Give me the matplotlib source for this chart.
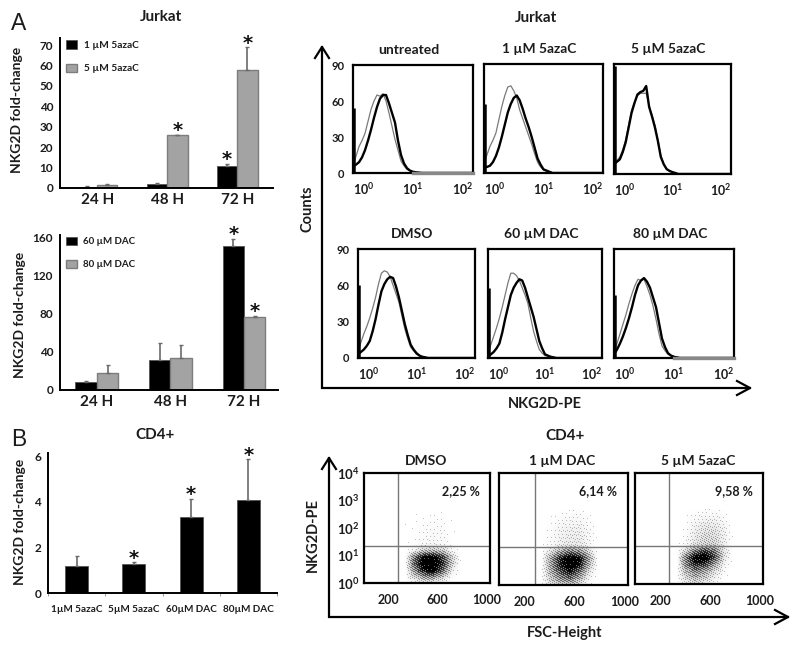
import matplotlib
matplotlib.use("Agg")
import matplotlib.pyplot as plt
import numpy as np

plt.rcParams['font.family'] = ['Lato', 'DejaVu Sans']
plt.rcParams['mathtext.fontset'] = 'custom'
plt.rcParams['mathtext.bf'] = 'Lato:bold'
plt.rcParams['mathtext.rm'] = 'Lato:bold'

W, H = 800, 653
TXT = '#1c1c1c'
GREY = '#a3a3a3'
GREY_E = '#7d7d7d'

# ---- bar data ----
hours = ['24 H', '48 H', '72 H']
aza_1 = [0.7, 2.0, 11.0]
aza_1_err = [0.2, 0.5, 1.0]
aza_5 = [1.3, 25.8, 58.0]
aza_5_err = [0.8, 0.3, 11.0]
dac_60 = [8.7, 31.5, 151.0]
dac_60_err = [1.0, 17.5, 8.0]
dac_80 = [18.0, 34.0, 77.0]
dac_80_err = [8.0, 13.5, 1.0]
cd4_labels = ['1µM 5azaC', '5µM 5azaC', '60µM DAC', '80µM DAC']
cd4_vals = [1.2, 1.29, 3.33, 4.1]
cd4_err = [0.44, 0.06, 0.81, 1.77]

# ---- histogram data: counts at log10(x) = 0, 0.05 ... 1.2, then 2 ----
log_grid = [0.0, 0.05, 0.1, 0.15, 0.2, 0.25, 0.3, 0.35, 0.4, 0.45, 0.5, 0.55, 0.6,
            0.65, 0.7, 0.75, 0.8, 0.85, 0.9, 0.95, 1.0, 1.05, 1.1, 1.15, 1.2, 2.0]
untreated_thick = [5.5, 7, 9, 13, 19, 27, 36, 46, 55, 62, 65, 65, 58, 50, 42, 27, 15, 8, 4, 2, 1, 0.6, 0.3, 0, 0, 0]
untreated_thin = [5.5, 14, 22, 27, 33, 43, 53, 60, 65, 64, 66, 60, 50, 39, 28, 19, 10, 6, 3, 2, 1, 0.5, 0, 0, 0, 0]
aza1_thick = [5, 5, 6, 9, 14, 21, 30, 40, 50, 57, 62, 64, 60, 53, 45, 38, 30, 21, 12, 7, 3, 2, 1, 0, 0, 0]
aza1_thin = [8, 15, 22, 27, 33, 44, 55, 64, 71, 72, 68, 62, 52, 45, 38, 31, 24, 16, 9, 5, 2.5, 1.5, 1, 0, 0, 0]
aza5_thick = [8, 10, 12, 18, 26, 38, 50, 58, 65, 67, 68, 72, 55, 47, 38, 27, 14, 8, 4, 2.5, 1.5, 0.8, 0, 0, 0, 0]
aza5_thin = [9, 11, 14, 20, 28, 40, 52, 59, 64, 66, 66, 66, 56, 48, 40, 28, 15, 8, 4, 2.5, 1.5, 0.8, 0, 0, 0, 0]
dmso_thick = [3, 5, 7, 10, 14, 22, 32, 44, 55, 61, 65, 67, 66, 59, 50, 39, 28, 19, 11, 7, 4, 2, 1, 0.5, 0, 0]
dmso_thin = [5, 13, 20, 26, 33, 41, 50, 61, 70, 72, 71, 67, 60, 53, 46, 35, 24, 16, 9, 6, 3, 2, 1, 0.5, 0, 0]
dac60_thick = [2, 3, 5, 8, 12, 21, 32, 42, 52, 58, 62, 65, 64, 58, 50, 42, 34, 24, 14, 8, 3, 2, 1, 0.5, 0, 0]
dac60_thin = [4, 11, 18, 25, 33, 42, 52, 62, 70, 70, 68, 64, 58, 52, 45, 33, 22, 14, 7, 4, 2, 1.5, 1, 0.5, 0, 0]
dac80_thick = [3, 7, 12, 18, 25, 33, 42, 52, 60, 64, 66, 63, 58, 50, 42, 29, 16, 9, 4, 2, 1, 0.5, 0, 0, 0, 0]
dac80_thin = [5, 12, 20, 28, 36, 45, 53, 60, 65, 64, 65, 59, 52, 43, 32, 20, 10, 6, 3, 2, 1, 0.5, 0, 0, 0, 0]
hist_titles = ['untreated', '1 µM 5azaC', '5 µM 5azaC', 'DMSO', '60 µM DAC', '80 µM DAC']
hist_spikes = [54, 57, 88, 60, 58, 52]
hist_ticks = ['90', '60', '30', '0']

# ---- dot-plot data: darkness read on a coarse FSC / PE grid ----
fsc_grid = [330, 400, 480, 560, 640, 720, 790]
pe_grid = [1.0, 1.6, 2.8, 5.0, 8.9, 15.8, 28.2, 100, 500]
dens_dmso = [[0, .05, .10, .10, .05, 0, 0],
             [0, .25, .45, .50, .30, .05, 0],
             [0, .45, .85, .95, .65, .15, 0],
             [0, .60, .95, 1.0, .80, .30, 0],
             [0, .55, .90, .95, .75, .30, 0],
             [0, .10, .30, .35, .30, .08, 0],
             [0, .03, .08, .10, .08, .02, 0],
             [0, .02, .06, .07, .07, .01, 0],
             [0, 0, 0, .01, .01, 0, 0]]
dens_dac = [[0, .15, .30, .35, .20, .03, 0],
            [0, .30, .50, .60, .40, .10, 0],
            [0, .35, .65, .85, .60, .20, 0],
            [0, .40, .80, 1.0, .85, .35, 0],
            [0, .40, .80, 1.0, .90, .45, 0],
            [0, .20, .45, .60, .55, .25, 0],
            [0, .07, .15, .20, .20, .10, 0],
            [0, .05, .12, .15, .15, .08, 0],
            [0, 0, .01, .03, .04, .01, 0]]
dens_aza = [[0, .10, .20, .15, .05, 0, 0],
            [0, .25, .40, .30, .15, .02, 0],
            [0, .35, .55, .45, .25, .05, 0],
            [0, .50, .80, .75, .45, .10, 0],
            [0, .55, .95, 1.0, .70, .20, 0],
            [0, .25, .60, .75, .60, .20, 0],
            [0, .07, .22, .30, .30, .15, 0],
            [0, .03, .15, .22, .22, .12, 0],
            [0, 0, .02, .04, .05, .02, 0]]
dot_titles = ['DMSO', '1 µM DAC', '5 µM 5azaC']
dot_pct = ['2,25 %', '6,14 %', '9,58 %']
pe_ticks = [1, 10, 100, 1000, 10000]
pe_labels = [r'$\mathbf{10^{%d}}$' % i for i in range(5)]
fsc_ticks = [200, 600, 1000]

fig = plt.figure(figsize=(W / 100, H / 100), dpi=100, facecolor='white')


def box(x0, y0, x1, y1, **kw):
    return fig.add_axes([x0 / W, 1 - y1 / H, (x1 - x0) / W, (y1 - y0) / H], **kw)


def tx(x, y, s, size=9, weight='bold', ha='center', **kw):
    fig.text(x / W, 1 - y / H, s, fontsize=size, fontweight=weight, ha=ha, va='center', color=TXT, **kw)


def star(ax, x, top, off):
    ax.annotate('*', (x, top), xytext=(0, off), textcoords='offset points', ha='center', va='center',
                fontsize=14, fontweight='bold', family='DejaVu Sans', color='#111111')


def style_bar(ax):
    for s in ('top', 'right'):
        ax.spines[s].set_visible(False)
    ax.spines['left'].set_linewidth(1.4)
    ax.spines['bottom'].set_linewidth(1.4)
    ax.tick_params(axis='y', length=0, pad=5, labelsize=8.5)
    ax.tick_params(axis='x', length=0, labelsize=11)
    for t in ax.get_xticklabels() + ax.get_yticklabels():
        t.set_fontweight('bold')
        t.set_color(TXT)


def grouped(ax, a, ae, b, be, la, lb, ylim, yt, xlim, stars, lsize):
    x = np.arange(3)
    w = 0.29
    ek = dict(ecolor='#6a6a6a', elinewidth=1.2, capsize=1.5, capthick=1)
    ax.bar(x - w / 2, a, w, color='black', edgecolor='#555555', linewidth=0.6, label=la,
           yerr=[np.zeros(3), ae], error_kw=ek)
    ax.bar(x + w / 2, b, w, color=GREY, edgecolor=GREY_E, linewidth=1.0, label=lb,
           yerr=[np.zeros(3), be], error_kw=ek)
    ax.set_xlim(*xlim)
    ax.set_ylim(*ylim)
    ax.set_yticks(yt)
    ax.set_xticks(x, hours)
    style_bar(ax)
    for i, side in stars:
        vals, errs, sx = (a, ae, -w / 2) if side == 0 else (b, be, w / 2)
        star(ax, i + sx, vals[i] + errs[i], 3)
    leg = ax.legend(loc='upper left', bbox_to_anchor=(0.02, 1.0), frameon=False, fontsize=lsize,
                    handlelength=1.05, handleheight=0.95, labelspacing=1.35, handletextpad=0.7,
                    borderaxespad=0, borderpad=0.2)
    for t in leg.get_texts():
        t.set_fontweight('bold')
        t.set_color(TXT)


# ---- bars ----
a1 = box(60, 38, 273, 188)
grouped(a1, aza_1, aza_1_err, aza_5, aza_5_err, '1 µM 5azaC', '5 µM 5azaC',
        (0, 73.5), range(0, 71, 10), (-0.53, 2.51), [(1, 1), (2, 0), (2, 1)], 7.3)
a2 = box(60, 235, 278, 390)
grouped(a2, dac_60, dac_60_err, dac_80, dac_80_err, '60 µM DAC', '80 µM DAC',
        (0, 163), [0, 40, 80, 120, 160], (-0.5, 2.46), [(2, 0), (2, 1)], 7.0)

b = box(48, 453, 277, 593)
xb = np.arange(4)
b.bar(xb, cd4_vals, 0.4, color='black', edgecolor='#555555', linewidth=0.6,
      yerr=[np.zeros(4), cd4_err], error_kw=dict(ecolor='#6a6a6a', elinewidth=1.2, capsize=1.5, capthick=1))
b.set_xlim(-0.5, 3.5)
b.set_ylim(0, 6.15)
b.set_yticks([0, 2, 4, 6])
b.set_xticks(xb, cd4_labels)
style_bar(b)
b.tick_params(axis='x', labelsize=7.2, pad=9)
b.set_xticks(np.arange(-0.5, 4, 1), minor=True)
b.tick_params(axis='x', which='minor', length=2, width=0.6, color='#888888')
for i in (1, 2, 3):
    star(b, i, cd4_vals[i] + cd4_err[i], 3)

# ---- histograms ----
hist_boxes = [(353, 65, 473, 173), (484, 64, 603, 173), (614, 64, 731, 174),
              (358, 249, 475, 358), (488, 249, 602, 358), (614, 249, 734, 358)]
thick = [untreated_thick, aza1_thick, aza5_thick, dmso_thick, dac60_thick, dac80_thick]
thin = [untreated_thin, aza1_thin, aza5_thin, dmso_thin, dac60_thin, dac80_thin]
xs = 10 ** np.array(log_grid)
for i, bx in enumerate(hist_boxes):
    ax = box(*bx)
    ax.semilogx(xs, thin[i], color='#7a7a7a', lw=0.9)
    ax.semilogx(xs, thick[i], color='black', lw=1.7)
    ax.vlines(1.035, 0, hist_spikes[i], color='black', lw=1.8)
    if i in (0, 5):
        ax.plot([10, 100], [0, 0], color='#888888', lw=2.4, zorder=5, clip_on=False)
    ax.set_xlim(1, 100)
    ax.set_ylim(0, 90)
    ax.minorticks_off()
    ax.set_xticks([1, 10, 100], [r'$\mathbf{10^{0}}$', r'$\mathbf{10^{1}}$', r'$\mathbf{10^{2}}$'])
    labs = ax.get_xticklabels()
    labs[0].set_ha('left')
    labs[2].set_ha('right')
    ax.tick_params(axis='x', length=0, labelsize=9, pad=6, labelcolor=TXT)
    if i in (0, 3):
        ax.set_yticks([90, 60, 30, 0], hist_ticks)
        ax.tick_params(axis='y', length=0, labelsize=8, pad=6, labelcolor=TXT)
        for t in ax.get_yticklabels():
            t.set_fontweight('bold')
    else:
        ax.set_yticks([])
    for s in ax.spines.values():
        s.set_linewidth(1.6)
    tx((bx[0] + bx[2]) / 2 - 4, bx[1] - 15, hist_titles[i], size=10)

# ---- dot plots ----
dot_boxes = [(364, 473, 490, 583), (499, 473, 628, 585), (635, 473, 763, 584)]
dens = [dens_dmso, dens_dac, dens_aza]
gate_x = [280, 285, 272]
gate_y = [23, 23, 24]


def stipple(ax, grid, nx, ny):
    """Show the read density grid as a smooth tone plus a fine ordered dither, one cell per pixel."""
    xe = np.linspace(0, 1024, nx + 1)
    le = np.linspace(0, 4, ny + 1)
    xc = (xe[:-1] + xe[1:]) / 2
    lc = (le[:-1] + le[1:]) / 2
    lg = np.log10(pe_grid)
    g = np.array(grid)
    by_row = np.array([np.interp(xc, fsc_grid, r, left=0, right=0) for r in g])
    d = np.array([np.interp(lc, lg, by_row[:, k], left=0, right=0) for k in range(nx)]).T
    jj, ii = np.mgrid[0:ny, 0:nx]
    thr = (ii * 0.7548777 + jj * 0.5698403) % 1
    dots = np.where(d ** 1.1 > thr, 1.0, 0.0)
    img = np.clip(0.45 * dots * (0.5 + 0.5 * d) + 0.65 * d ** 1.3, 0, 1)
    ax.pcolormesh(xe, 10 ** le, img, shading='flat', cmap='gray_r', vmin=0, vmax=1, antialiased=False)


for i, bx in enumerate(dot_boxes):
    ax = box(*bx)
    ax.set_yscale('log')
    stipple(ax, dens[i], bx[2] - bx[0], bx[3] - bx[1])
    ax.axvline(gate_x[i], color='#777777', lw=1)
    ax.axhline(gate_y[i], color='#777777', lw=1)
    ax.set_xlim(0, 1024)
    ax.set_ylim(1, 10000)
    ax.minorticks_off()
    ax.set_xticks(fsc_ticks, [str(v) for v in fsc_ticks])
    ax.tick_params(axis='x', length=0, labelsize=9, pad=8, labelcolor=TXT)
    for t in ax.get_xticklabels():
        t.set_fontweight('bold')
    if i == 0:
        ax.set_yticks(pe_ticks, pe_labels)
        ax.tick_params(axis='y', length=0, labelsize=9.5, pad=3, labelcolor=TXT)
    else:
        ax.set_yticks([])
    for s in ax.spines.values():
        s.set_linewidth(1.6)
    ax.text(0.77, 0.84, dot_pct[i], transform=ax.transAxes, ha='center', va='center',
            fontsize=9, fontweight='bold', color=TXT)
    tx((bx[0] + bx[2]) / 2 - 1, bx[1] - 12, dot_titles[i], size=10)

# ---- overlay: L-shaped axes with arrows ----
ov = fig.add_axes([0, 0, 1, 1], facecolor='none')
ov.set_xlim(0, W)
ov.set_ylim(H, 0)
ov.axis('off')
for cx, ty, cy, rx in [(322, 47, 388, 750), (329, 458, 617, 788)]:
    ov.plot([cx, cx, rx], [ty, cy, cy], color='black', lw=1.6, solid_joinstyle='miter')
    ov.plot([cx - 7, cx, cx + 7], [ty + 11, ty, ty + 11], color='black', lw=1.6)
    ov.plot([rx - 13, rx, rx - 13], [cy - 7, cy, cy + 7], color='black', lw=1.6)

# ---- free text ----
tx(19, 23, 'A', size=16.5, weight='normal', family='Liberation Sans')
tx(19, 439, 'B', size=16.5, weight='normal', family='Liberation Sans')
tx(161, 17, 'Jurkat', size=11)
tx(536, 18, 'Jurkat', size=11)
tx(155, 435, 'CD4+', size=11)
tx(565, 436, 'CD4+', size=11)
tx(17, 110, 'NKG2D fold-change', size=10, rotation=90)
tx(20, 315, 'NKG2D fold-change', size=10, rotation=90)
tx(20, 522, 'NKG2D fold-change', size=10, rotation=90)
tx(307, 209, 'Counts', size=10.5, rotation=90)
tx(545, 404, 'NKG2D-PE', size=10.5)
tx(313, 535, 'NKG2D-PE', size=10.5, rotation=90)
tx(565, 633, 'FSC-Height', size=10.5)

fig.savefig('out.png', dpi=100)
